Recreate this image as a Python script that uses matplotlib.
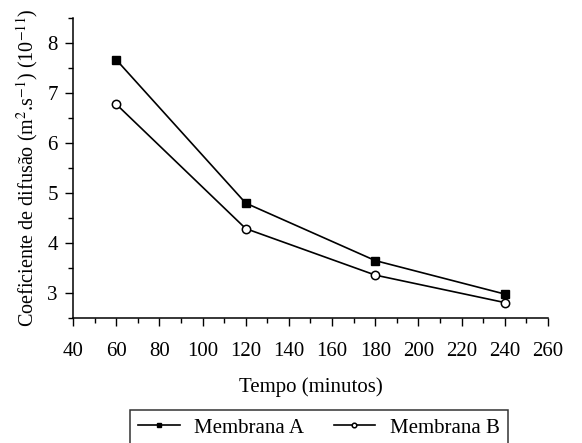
import matplotlib
matplotlib.use("Agg")
import matplotlib.pyplot as plt
from matplotlib.ticker import MultipleLocator

plt.rcParams['font.family'] = ['Liberation Serif', 'DejaVu Serif']
plt.rcParams['mathtext.fontset'] = 'stix'

tempo = [60, 120, 180, 240]
membrana_a = [7.67, 4.80, 3.65, 2.98]
membrana_b = [6.78, 4.29, 3.36, 2.81]

fig = plt.figure(figsize=(5.82, 4.43), dpi=100)
ax = fig.add_axes([0.1254, 0.282, 0.8162, 0.677])

ax.plot(tempo, membrana_a, '-', color='black', lw=1.2, marker='s', ms=6,
        mfc='black', mec='black', label='Membrana A')
ax.plot(tempo, membrana_b, '-', color='black', lw=1.2, marker='o', ms=6,
        mfc='white', mec='black', mew=1.1, label='Membrana B')

ax.set_xlim(40, 260)
ax.set_ylim(2.5, 8.5)
ax.xaxis.set_major_locator(MultipleLocator(20))
ax.xaxis.set_minor_locator(MultipleLocator(10))
ax.yaxis.set_major_locator(MultipleLocator(1))
ax.yaxis.set_minor_locator(MultipleLocator(0.5))
ax.spines['top'].set_visible(False)
ax.spines['right'].set_visible(False)
for s in ('left', 'bottom'):
    ax.spines[s].set_linewidth(1.1)
ax.tick_params(which='major', direction='out', length=6, width=1, labelsize=15)
ax.tick_params(which='minor', direction='out', length=3.5, width=1)
ax.tick_params(axis='x', which='major', pad=11)
ax.tick_params(axis='y', which='major', pad=5)

ax.set_xlabel('Tempo (minutos)', fontsize=15, labelpad=12)
ax.set_ylabel(r'Coeficiente de difusão (m$^2$.s$^{-1}$) (10$^{-11}$)', fontsize=14.5, labelpad=5)

leg = fig.legend(loc='center', bbox_to_anchor=(0.548, 0.034), ncol=2,
                 fontsize=15, frameon=True, fancybox=False, edgecolor='black',
                 handlelength=2.0, markerscale=0.55, columnspacing=1.4,
                 borderpad=0.4, handletextpad=0.7)
leg.get_frame().set_linewidth(1.1)

fig.savefig('out.png', dpi=100)
